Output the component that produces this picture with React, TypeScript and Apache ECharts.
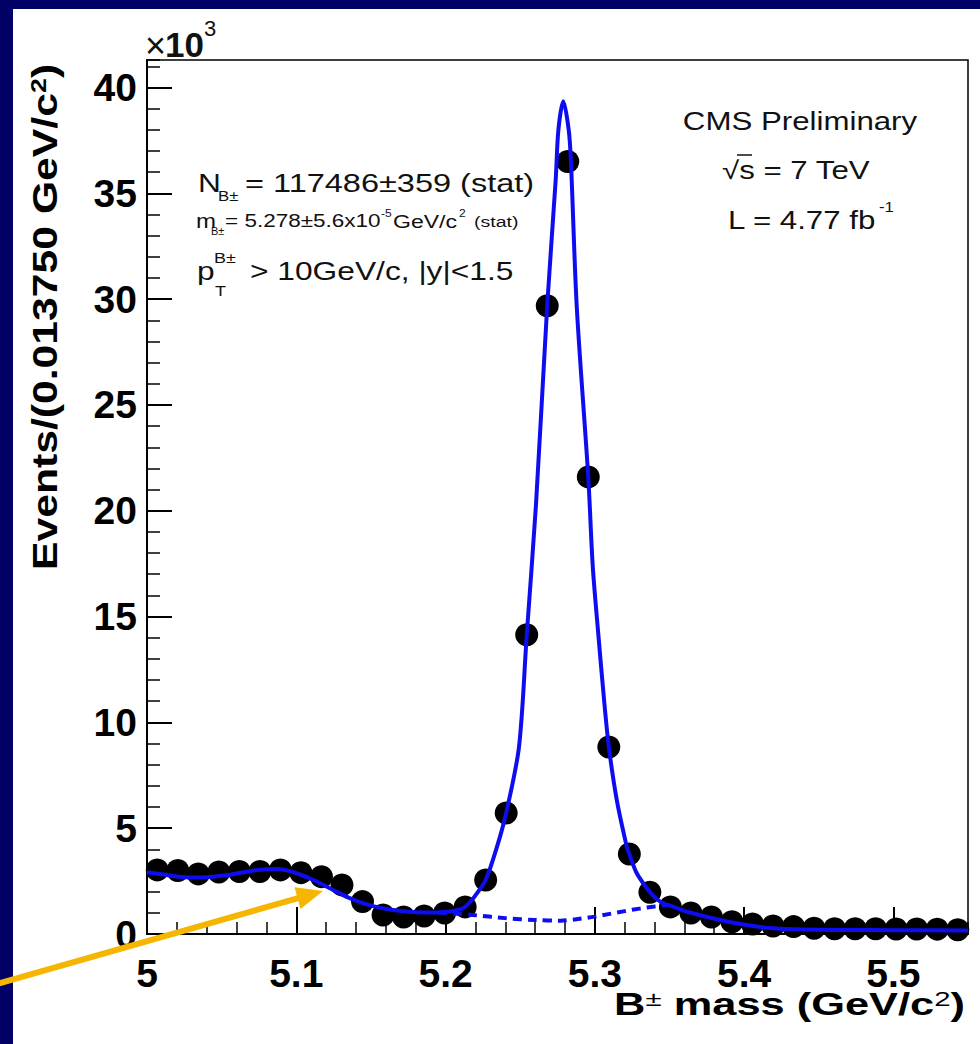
import React, { useEffect, useRef } from "react";
import * as echarts from "echarts";

// ---- data (values in units of 10^3 events) ----
const BIN_CENTERS = [
  5.006875, 5.020625, 5.034375, 5.048125, 5.061875, 5.075625, 5.089375, 5.103125,
  5.116875, 5.130625, 5.144375, 5.158125, 5.171875, 5.185625, 5.199375, 5.213125,
  5.226875, 5.240625, 5.254375, 5.268125, 5.281875, 5.295625, 5.309375, 5.323125,
  5.336875, 5.350625, 5.364375, 5.378125, 5.391875, 5.405625, 5.419375, 5.433125,
  5.446875, 5.460625, 5.474375, 5.488125, 5.501875, 5.515625, 5.529375, 5.543125,
];
const EVENTS_K = [
  3.03, 3.0, 2.84, 2.93, 2.95, 2.95, 3.03, 2.9,
  2.71, 2.32, 1.53, 0.9, 0.8, 0.85, 0.99, 1.28,
  2.55, 5.72, 14.14, 29.69, 36.5, 21.6, 8.84, 3.78,
  1.97, 1.28, 0.99, 0.8, 0.58, 0.47, 0.38, 0.35,
  0.27, 0.25, 0.25, 0.25, 0.24, 0.24, 0.23, 0.2,
];

// total fit curve
const FIT_MASS = [
  5.0, 5.01, 5.02, 5.03, 5.04, 5.05, 5.06, 5.07, 5.08, 5.088, 5.095, 5.103, 5.11, 5.117,
  5.125, 5.135, 5.145, 5.155, 5.165, 5.175, 5.185, 5.195, 5.203, 5.21, 5.2131, 5.217,
  5.221, 5.2269, 5.2345, 5.2406, 5.2492, 5.2544, 5.2606, 5.2681, 5.2738, 5.2756, 5.2789,
  5.2825, 5.284, 5.2879, 5.2956, 5.2986, 5.3023, 5.3062, 5.3094, 5.3147, 5.3214, 5.3231,
  5.3281, 5.337, 5.342, 5.347, 5.352, 5.3618, 5.3839, 5.406, 5.4194, 5.44, 5.47, 5.5, 5.55,
];
const FIT_TOTAL_K = [
  2.92, 2.82, 2.72, 2.67, 2.68, 2.75, 2.86, 2.98, 3.06, 3.07, 2.98, 2.8, 2.6, 2.36,
  2.07, 1.72, 1.45, 1.26, 1.13, 1.05, 1.02, 1.02, 1.06, 1.17, 1.28, 1.55,
  1.92, 2.55, 4.13, 5.72, 8.84, 14.14, 20.3, 29.69, 35.65, 38.0, 39.35,
  38.0, 36.5, 29.64, 21.6, 17.4, 14.2, 11.06, 8.84, 6.34, 4.13, 3.78,
  2.87, 1.97, 1.62, 1.42, 1.3, 1.05, 0.66, 0.38, 0.27, 0.21, 0.19, 0.18, 0.17,
];

// background component (dashed), visible under the peak
const BKG_MASS = [5.195, 5.205, 5.218, 5.24, 5.26, 5.277, 5.29, 5.3, 5.31, 5.32, 5.33, 5.34, 5.348, 5.355];
const BKG_K = [1.02, 0.97, 0.9, 0.75, 0.66, 0.63, 0.72, 0.82, 0.95, 1.08, 1.2, 1.3, 1.37, 1.3];

const NAVY = "#000066";
const BLUE = "#0d0df0";
const ORANGE = "#f6b500";
const FONT = "'Liberation Sans', Arial, Helvetica, sans-serif";

type Piece = { t: string; x: number; y: number; fs: number; sx: number; bold?: boolean; align?: string };

const TEXT_PIECES: Piece[] = [
  // x10^3
  { t: "\u00d7", x: 145, y: 45, fs: 36, sx: 1.0 },
  { t: "10", x: 165, y: 44, fs: 35, sx: 1.0, bold: true },
  { t: "3", x: 204, y: 28, fs: 22, sx: 1.0 },
  // N line
  { t: "N", x: 198, y: 183, fs: 26, sx: 1.22 },
  { t: "B\u00b1", x: 218, y: 196, fs: 14, sx: 1.2 },
  { t: "= 117486\u00b1359 (stat)", x: 245, y: 183, fs: 26, sx: 1.25 },
  // m line
  { t: "m", x: 196, y: 221, fs: 20, sx: 1.2 },
  { t: "B\u00b1", x: 211, y: 231, fs: 10, sx: 1.1 },
  { t: "= 5.278\u00b15.6x10", x: 225, y: 221, fs: 18, sx: 1.25 },
  { t: "-5", x: 381, y: 213, fs: 10, sx: 1.2 },
  { t: "GeV/c", x: 393, y: 221, fs: 18, sx: 1.28 },
  { t: "2", x: 459, y: 213, fs: 10, sx: 1.2 },
  { t: "(stat)", x: 474, y: 222, fs: 15, sx: 1.3 },
  // p line
  { t: "p", x: 197, y: 271, fs: 26, sx: 1.22 },
  { t: "B\u00b1", x: 214, y: 258, fs: 15, sx: 1.2 },
  { t: "T", x: 215, y: 291, fs: 15, sx: 1.2 },
  { t: "> 10GeV/c, |y|<1.5", x: 250, y: 271, fs: 26, sx: 1.22 },
  // CMS block
  { t: "CMS Preliminary", x: 800, y: 121, fs: 25, sx: 1.25, align: "center" },
  { t: "\u221as = 7 TeV", x: 722, y: 170, fs: 25, sx: 1.25 },
  { t: "L = 4.77 fb", x: 728, y: 220, fs: 25, sx: 1.25 },
  { t: "-1", x: 879, y: 207, fs: 14, sx: 1.2 },
];

export default function App() {
  const ref = useRef<HTMLDivElement>(null);

  useEffect(() => {
    if (!ref.current) return;
    const chart = echarts.init(ref.current, null, { renderer: "svg" });

    const texts: any[] = TEXT_PIECES.map((p) => ({
      type: "text",
      x: p.x,
      y: p.y,
      scaleX: p.sx,
      z: 20,
      style: {
        text: p.t,
        fontSize: p.fs,
        fontWeight: p.bold ? "bold" : "normal",
        fontFamily: FONT,
        fill: "#111",
        textAlign: p.align || "left",
        textVerticalAlign: "middle",
      },
    }));

    const option: any = {
      animation: false,
      backgroundColor: "#ffffff",
      grid: {
        left: 147,
        right: 12,
        top: 60,
        bottom: 110,
        show: true,
        borderColor: "#000",
        borderWidth: 1.5,
        backgroundColor: "transparent",
      },
      xAxis: [
        {
          type: "value",
          min: 5,
          max: 5.55,
          interval: 0.1,
          position: "bottom",
          axisLine: { show: true, onZero: false, lineStyle: { color: "#000", width: 2 } },
          axisTick: { show: true, inside: true, length: 27, lineStyle: { color: "#000", width: 2 } },
          axisLabel: {
            margin: 20,
            fontSize: 39,
            fontWeight: "bold",
            color: "#000",
            fontFamily: FONT,
            showMaxLabel: false,
            formatter: (v: number) => String(Number(v.toFixed(2))),
          },
          splitLine: { show: false },
        },
        {
          type: "value",
          min: 5,
          max: 5.55,
          interval: 0.02,
          position: "bottom",
          axisLine: { show: false, onZero: false },
          axisTick: { show: true, inside: true, length: 12, lineStyle: { color: "#000", width: 1.5 } },
          axisLabel: { show: false },
          splitLine: { show: false },
        },
      ],
      yAxis: [
        {
          type: "value",
          min: 0,
          max: 41.3,
          interval: 5,
          position: "left",
          axisLine: { show: true, onZero: false, lineStyle: { color: "#000", width: 2 } },
          axisTick: { show: true, inside: true, length: 25, lineStyle: { color: "#000", width: 2 } },
          axisLabel: {
            margin: 10,
            fontSize: 39,
            fontWeight: "bold",
            color: "#000",
            fontFamily: FONT,
            showMaxLabel: false,
          },
          splitLine: { show: false },
        },
        {
          type: "value",
          min: 0,
          max: 41.3,
          interval: 1,
          position: "left",
          axisLine: { show: false, onZero: false },
          axisTick: { show: true, inside: true, length: 13, lineStyle: { color: "#000", width: 1.5 } },
          axisLabel: { show: false },
          splitLine: { show: false },
        },
      ],
      series: [
        {
          type: "scatter",
          xAxisIndex: 0,
          yAxisIndex: 0,
          data: BIN_CENTERS.map((m, i) => [m, EVENTS_K[i]]),
          symbol: "circle",
          symbolSize: 23,
          itemStyle: { color: "#000", opacity: 1 },
          z: 2,
        },
        {
          type: "line",
          xAxisIndex: 0,
          yAxisIndex: 0,
          data: BKG_MASS.map((m, i) => [m, BKG_K[i]]),
          showSymbol: false,
          smooth: 0.3,
          lineStyle: { color: BLUE, width: 4, type: [9, 6] },
          z: 3,
        },
        {
          type: "line",
          xAxisIndex: 0,
          yAxisIndex: 0,
          data: FIT_MASS.map((m, i) => [m, FIT_TOTAL_K[i]]),
          showSymbol: false,
          smooth: 0.3,
          lineStyle: { color: BLUE, width: 4 },
          z: 4,
        },
      ],
      graphic: [
        { type: "rect", z: 1, shape: { x: 0, y: 0, width: 13, height: 1044 }, style: { fill: NAVY } },
        { type: "rect", z: 1, shape: { x: 0, y: 0, width: 980, height: 9 }, style: { fill: NAVY } },
        ...texts,
        // overline of the square root
        { type: "line", z: 20, shape: { x1: 737, y1: 155, x2: 752, y2: 155 }, style: { stroke: "#111", lineWidth: 1.5 } },
        // y-axis title
        {
          type: "text",
          x: 45,
          y: 317,
          rotation: Math.PI / 2,
          scaleX: 1.22,
          z: 20,
          style: {
            text: "{b|Events/(0.013750 GeV/c}{s|2}{b|)}",
            textAlign: "center",
            textVerticalAlign: "middle",
            fill: "#000",
            rich: {
              b: { fontSize: 35, fontWeight: "bold", fontFamily: FONT, fill: "#000" },
              s: { fontSize: 22, fontWeight: "bold", fontFamily: FONT, fill: "#000", verticalAlign: "top" },
            },
          },
        },
        // x-axis title
        {
          type: "text",
          x: 965,
          y: 1004,
          scaleX: 1.4,
          z: 20,
          style: {
            text: "{b|B}{s|\u00b1}{b| mass (GeV/c}{s|2}{b|)}",
            textAlign: "right",
            textVerticalAlign: "middle",
            fill: "#000",
            rich: {
              b: { fontSize: 31, fontWeight: "bold", fontFamily: FONT, fill: "#000" },
              s: { fontSize: 21, fontWeight: "normal", fontFamily: FONT, fill: "#000", verticalAlign: "top" },
            },
          },
        },
        // orange arrow
        {
          type: "line",
          z: 30,
          shape: { x1: -5, y1: 984.5, x2: 299, y2: 897.8 },
          style: { stroke: ORANGE, lineWidth: 6 },
        },
        {
          type: "polygon",
          z: 30,
          shape: { points: [[323, 891], [294.5, 887.3], [300.5, 909]] },
          style: { fill: ORANGE },
        },
      ],
    };

    chart.setOption(option);
    return () => chart.dispose();
  }, []);

  return (
    <div
      ref={ref}
      style={{ position: "absolute", left: 0, top: 0, width: 980, height: 1044 }}
    />
  );
}
